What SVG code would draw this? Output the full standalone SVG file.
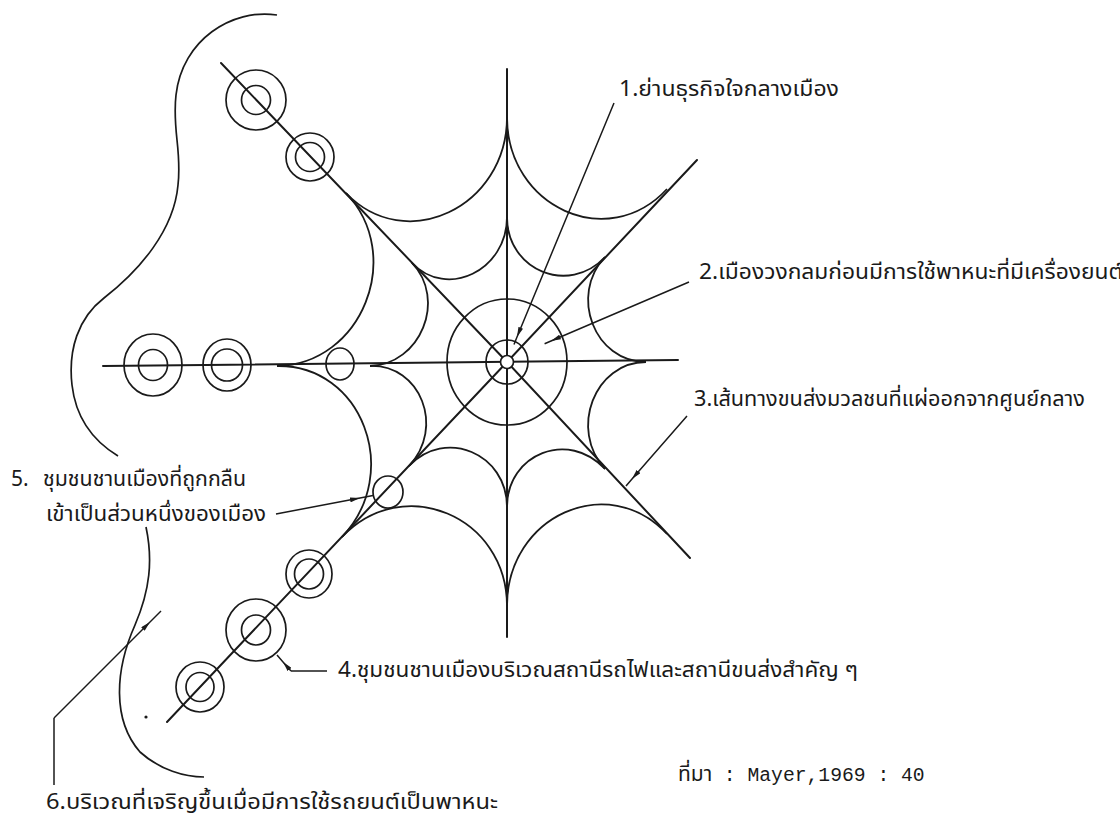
<svg xmlns="http://www.w3.org/2000/svg" width="1120" height="818" viewBox="0 0 1120 818">
<style>
.ln{fill:none;stroke:#1a1a1a;stroke-width:2;stroke-linecap:round}
.arc{fill:none;stroke:#1a1a1a;stroke-width:1.8}
.cir{fill:none;stroke:#1a1a1a;stroke-width:1.7}
.bnd{fill:none;stroke:#1a1a1a;stroke-width:1.7}
.ptr{fill:none;stroke:#1a1a1a;stroke-width:1.5}
.th{font-family:'Noto Sans Thai','Noto Sans','DejaVu Sans',sans-serif;font-size:21px;fill:#1a1a1a}
.mono{font-family:'Liberation Mono',monospace;font-size:19.7px;fill:#1a1a1a}
</style>
<defs>
<marker id="ah" viewBox="0 0 10 5" refX="10" refY="2.5" markerWidth="10" markerHeight="5" markerUnits="userSpaceOnUse" orient="auto">
<path d="M0,0 L10,2.5 L0,5 Z" fill="#1a1a1a"/>
</marker>
</defs>
<rect width="1120" height="818" fill="#ffffff"/>

<g id="web">
<g id="radials">
<line class="ln" x1="507" y1="69" x2="507" y2="637"/>
<line class="ln" x1="103" y1="366" x2="678" y2="360"/>
<polyline class="ln" points="221,63 507,362 690,558"/>
<polyline class="ln" points="697,160 507,362 167,722"/>
</g>
<g id="outer-ring">
<path class="arc" d="M667 189 C608 252.8 507 207.4 507 117"/>
<path class="arc" d="M507 117 C507 207.4 405.4 255.4 346 193"/>
<path class="arc" d="M346 193 C405.4 255.4 361.9 364.5 277 366"/>
<path class="arc" d="M277 366 C361.9 364.5 402.9 472.4 342 537"/>
<path class="arc" d="M342 537 C402.9 472.4 507 516 507 606"/>
<path class="arc" d="M507 606 C507 516 608 470.5 667 534"/>
</g>
<g id="inner-ring">
<path class="arc" d="M507 217 C507 270.5 568.8 295.7 605 257"/>
<path class="arc" d="M605 257 C568.8 295.7 594.7 362 646 362"/>
<path class="arc" d="M646 362 C594.7 362 568.8 429.5 605 469"/>
<path class="arc" d="M605 469 C568.8 429.5 507 453.5 507 507"/>
<path class="arc" d="M507 507 C507 453.5 445.2 427.6 409 466"/>
<path class="arc" d="M409 466 C445.2 427.6 420.6 364.5 370 366"/>
<path class="arc" d="M370 366 C420.6 364.5 447 299.5 412 263"/>
<path class="arc" d="M412 263 C447 299.5 507 270.5 507 217"/>
</g>
<g id="centre">
<ellipse class="cir" cx="507" cy="362" rx="60" ry="63"/>
<ellipse class="cir" cx="507" cy="362" rx="21" ry="22"/>
<circle cx="507" cy="362" r="6.5" fill="#ffffff" stroke="#1a1a1a" stroke-width="1.7"/>
</g>
</g>

<g id="settlements">
<g id="nw-1"><ellipse class="cir" cx="256" cy="100" rx="30" ry="30"/><ellipse class="cir" cx="256" cy="100" rx="14.5" ry="14.5"/></g>
<g id="nw-2"><ellipse class="cir" cx="310" cy="157" rx="24" ry="24"/><ellipse class="cir" cx="310" cy="157" rx="14.5" ry="14.5"/></g>
<g id="w-1"><ellipse class="cir" cx="153" cy="365" rx="29" ry="31"/><ellipse class="cir" cx="153" cy="365" rx="14.5" ry="15.5"/></g>
<g id="w-2"><ellipse class="cir" cx="227" cy="365" rx="24" ry="26"/><ellipse class="cir" cx="227" cy="365" rx="15.5" ry="16"/></g>
<g id="w-absorbed"><ellipse class="cir" cx="340" cy="364" rx="14" ry="16"/></g>
<g id="sw-absorbed"><ellipse class="cir" cx="388" cy="492" rx="15" ry="16"/></g>
<g id="sw-1"><ellipse class="cir" cx="309" cy="574" rx="23" ry="24"/><ellipse class="cir" cx="309" cy="574" rx="14.5" ry="15"/></g>
<g id="sw-2"><ellipse class="cir" cx="256" cy="630" rx="30" ry="31"/><ellipse class="cir" cx="256" cy="630" rx="14.5" ry="15"/></g>
<g id="sw-3"><ellipse class="cir" cx="200" cy="687" rx="24" ry="25"/><ellipse class="cir" cx="200" cy="687" rx="14" ry="14.5"/></g>
</g>

<g id="boundaries">
<path id="auto-boundary" class="bnd" d="M277 15 C232 8 182 40 176 95 C172 130 182 150 178 185 C174 230 140 270 104 298 C78 318 68 350 72 385 C76 420 95 442 118 456"/>
<path id="auto-boundary-south" class="bnd" d="M146 527 C153 560 150 590 135 625 C115 670 112 720 140 752 C160 770 185 777 204 777"/>
<circle cx="146" cy="717" r="1.6" fill="#1a1a1a"/>
</g>

<g id="connectors">
<path class="ptr" d="M614 103 L517 337 L514 344.5" marker-mid="url(#ah)"/>
<path class="ptr" d="M689 282 L551 341 L544.6 343.8" marker-mid="url(#ah)"/>
<path class="ptr" d="M687 416 L632 479 L626 486" marker-mid="url(#ah)"/>
<path class="ptr" d="M327 671 L291 671"/>
<path class="ptr" d="M291 671 L283 662 L277 655" marker-mid="url(#ah)"/>
<path class="ptr" d="M276 514 L360 498 L373 495.5" marker-mid="url(#ah)"/>
<path class="ptr" d="M54 785 L54 718"/>
<path class="ptr" d="M54 718 L150 622 L161 611" marker-mid="url(#ah)"/>
</g>

<g id="labels">
<text id="label-1" class="th" x="619" y="96" textLength="220" lengthAdjust="spacingAndGlyphs">1.ย่านธุรกิจใจกลางเมือง</text>
<text id="label-2" class="th" x="699" y="279" textLength="424" lengthAdjust="spacingAndGlyphs">2.เมืองวงกลมก่อนมีการใช้พาหนะที่มีเครื่องยนต์</text>
<text id="label-3" class="th" x="694" y="406" textLength="391" lengthAdjust="spacingAndGlyphs">3.เส้นทางขนส่งมวลชนที่แผ่ออกจากศูนย์กลาง</text>
<text id="label-4" class="th" x="338" y="677" textLength="520" lengthAdjust="spacingAndGlyphs">4.ชุมชนชานเมืองบริเวณสถานีรถไฟและสถานีขนส่งสำคัญ ๆ</text>
<g id="label-5">
<text class="th" x="11" y="486">5.</text>
<text class="th" x="43" y="486" textLength="203" lengthAdjust="spacingAndGlyphs">ชุมชนชานเมืองที่ถูกกลืน</text>
<text class="th" x="46" y="521" textLength="220" lengthAdjust="spacingAndGlyphs">เข้าเป็นส่วนหนึ่งของเมือง</text>
</g>
<text id="label-6" class="th" x="46" y="809" textLength="452" lengthAdjust="spacingAndGlyphs">6.บริเวณที่เจริญขึ้นเมื่อมีการใช้รถยนต์เป็นพาหนะ</text>
<text id="source"><tspan class="th" x="678" y="781">ที่มา</tspan><tspan class="mono" x="712" y="781"> : Mayer,1969 : 40</tspan></text>
</g>
</svg>
